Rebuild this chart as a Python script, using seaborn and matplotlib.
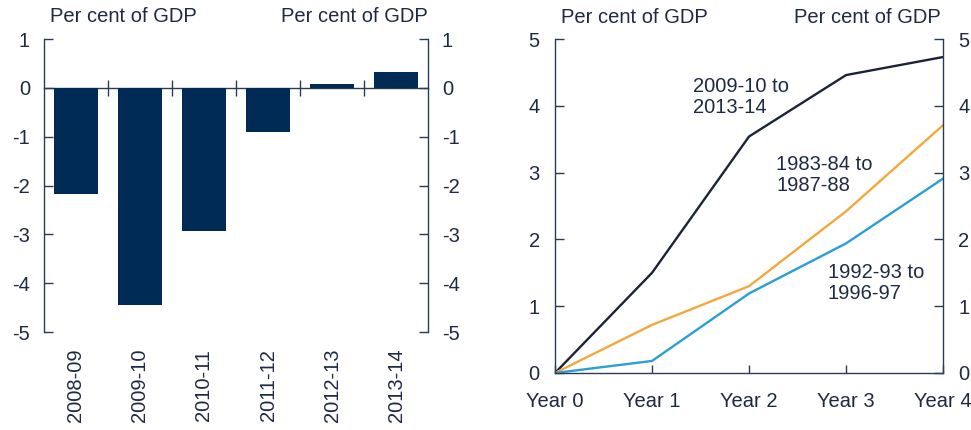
import matplotlib
matplotlib.use("Agg")
import matplotlib.pyplot as plt
import seaborn as sns
import pandas as pd
import numpy as np

# ---- data ----
years_fy = ["2008-09", "2009-10", "2010-11", "2011-12", "2012-13", "2013-14"]
impulse = [-2.17, -4.45, -2.93, -0.90, 0.07, 0.32]

year_labels = ["Year 0", "Year 1", "Year 2", "Year 3", "Year 4"]
series_names = ["2009-10 to\n2013-14", "1983-84 to\n1987-88", "1992-93 to\n1996-97"]
s_2009 = [0.0, 1.50, 3.54, 4.46, 4.73]
s_1983 = [0.0, 0.72, 1.30, 2.42, 3.71]
s_1992 = [0.0, 0.18, 1.19, 1.94, 2.91]

# ---- style ----
sns.set_theme(style="white")
plt.rcParams["font.family"] = ["Liberation Sans", "DejaVu Sans"]
plt.rcParams["axes.unicode_minus"] = False
TXT = "#1e2a44"
AX = "#2b3a55"
BAR = "#002b54"
colors = ["#1b2338", "#f2a93b", "#2a9fd6"]
FS = 14.5

fig = plt.figure(figsize=(9.71, 4.30), dpi=100)

# ---- left panel ----
ax1 = fig.add_axes([0.0453, 0.2279, 0.3955, 0.6814])
bar_df = pd.DataFrame({"year": years_fy, "value": impulse})
sns.barplot(data=bar_df, x="year", y="value", color=BAR, width=0.69,
            saturation=1, ax=ax1, edgecolor="none")
ax1.set_xlim(-0.5, len(years_fy) - 0.5)
ax1.set_ylim(-5, 1)
ax1.set_xlabel("")
ax1.set_ylabel("")
for s in ["top", "bottom"]:
    ax1.spines[s].set_visible(False)
for s in ["left", "right"]:
    ax1.spines[s].set_visible(True)
    ax1.spines[s].set_color(AX)
    ax1.spines[s].set_linewidth(1.0)
ax1.set_yticks(range(-5, 2))
ax1.tick_params(axis="y", which="both", direction="in", length=6.5, width=1,
                color=AX, left=True, right=True, labelleft=True, labelright=True,
                labelsize=FS, labelcolor=TXT, pad=10)
ax1.tick_params(axis="x", length=0, labelsize=FS, labelcolor=TXT, rotation=90, pad=12)
# zero line with crossing ticks between categories
sec = ax1.secondary_xaxis(5 / 6)
sec.set_xticks(np.arange(0.5, len(years_fy) - 1, 1.0))
sec.tick_params(direction="inout", length=11, width=1, color=AX, labelbottom=False,
                labeltop=False, bottom=True, top=False)
for s in ["top", "bottom"]:
    sec.spines[s].set_color(AX)
    sec.spines[s].set_linewidth(1.0)

ax1.text(0.015, 1.045, "Per cent of GDP", transform=ax1.transAxes, ha="left",
         va="bottom", fontsize=FS, color=TXT)
ax1.text(1.0, 1.045, "Per cent of GDP", transform=ax1.transAxes, ha="right",
         va="bottom", fontsize=FS, color=TXT)

# ---- right panel ----
ax2 = fig.add_axes([0.5716, 0.1326, 0.3996, 0.7767])
rows = []
for name, vals in zip(series_names, [s_2009, s_1983, s_1992]):
    for i, v in enumerate(vals):
        rows.append({"x": i, "value": v, "series": name})
line_df = pd.DataFrame(rows)
sns.lineplot(data=line_df, x="x", y="value", hue="series", palette=colors,
             hue_order=series_names, linewidth=1.7, ax=ax2, legend=False)
ax2.set_xlim(0, 4)
ax2.set_ylim(0, 5)
ax2.set_xlabel("")
ax2.set_ylabel("")
ax2.spines["top"].set_visible(False)
for s in ["left", "right", "bottom"]:
    ax2.spines[s].set_visible(True)
    ax2.spines[s].set_color(AX)
    ax2.spines[s].set_linewidth(1.0)
ax2.set_xticks(range(len(year_labels)))
ax2.set_xticklabels(year_labels)
ax2.set_yticks(range(0, 6))
ax2.tick_params(axis="y", direction="in", length=6.5, width=1, color=AX,
                left=True, right=True, labelleft=True, labelright=True,
                labelsize=FS, labelcolor=TXT, pad=11)
ax2.tick_params(axis="x", direction="in", length=6, width=1, color=AX,
                bottom=True, labelsize=FS, labelcolor=TXT, pad=14)

label_pos = [(1.42, 4.43), (2.28, 3.26), (2.81, 1.65)]
for name, (lx, ly) in zip(series_names, label_pos):
    ax2.text(lx, ly, name, ha="left", va="top", fontsize=FS, color=TXT,
             linespacing=1.15)

ax2.text(0.015, 1.035, "Per cent of GDP", transform=ax2.transAxes, ha="left",
         va="bottom", fontsize=FS, color=TXT)
ax2.text(0.995, 1.035, "Per cent of GDP", transform=ax2.transAxes, ha="right",
         va="bottom", fontsize=FS, color=TXT)

fig.savefig("out.png", dpi=100)
